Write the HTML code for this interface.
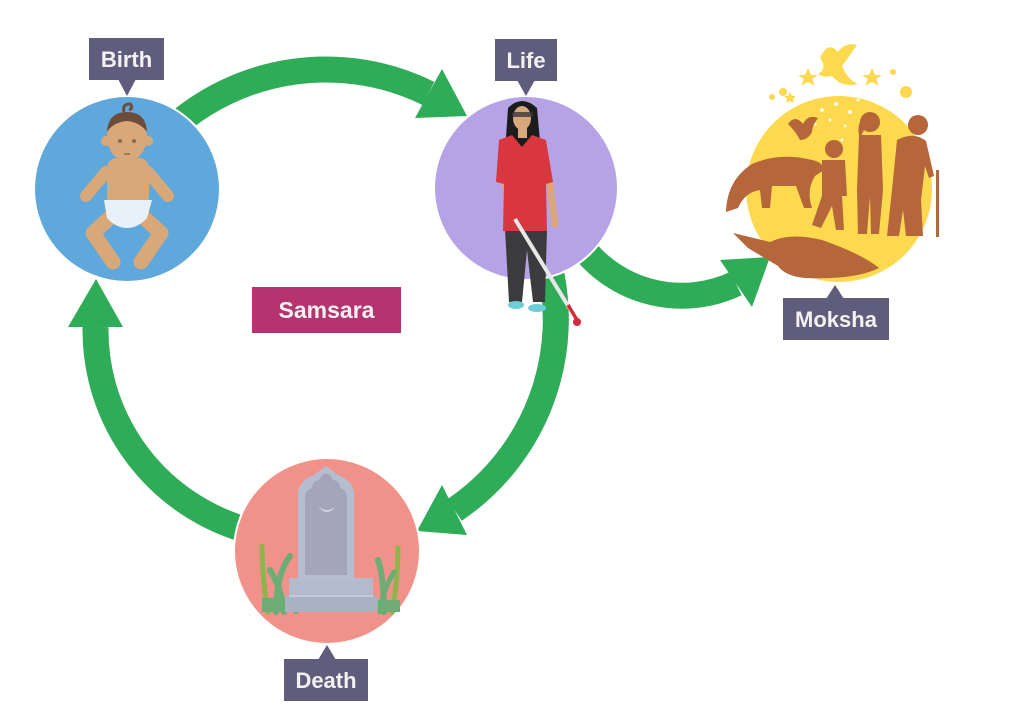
<!DOCTYPE html>
<html><head><meta charset="utf-8"><style>
html,body{margin:0;padding:0;background:#fff;}
svg{display:block;}
text{font-family:"Liberation Sans",sans-serif;font-weight:bold;}
</style></head><body>
<svg width="1024" height="709" viewBox="0 0 1024 709" xmlns="http://www.w3.org/2000/svg">
<rect width="1024" height="709" fill="#fff"/>

<!-- arrows -->
<g fill="none" stroke="#2eac57" stroke-width="26">
  <path d="M170 130 A231 231 0 0 1 428.5 93.5"/>
  <path d="M548 260 A230 230 0 0 1 454.5 510"/>
  <path d="M250 531 A208 208 0 0 1 95.5 327"/>
  <path d="M583 248 A126 126 0 0 0 736 283.5"/>
</g>
<g fill="#2eac57">
  <polygon points="442,69 467,116 415,118"/>
  <polygon points="442,485 467,535 417,531"/>
  <polygon points="68,327 123,327 96,279"/>
  <polygon points="720,260 770,257 752,307"/>
</g>

<!-- circles -->
<circle cx="127" cy="189" r="93" fill="#5fa8dc" stroke="#fff" stroke-width="2"/>
<circle cx="526" cy="188" r="92" fill="#b6a3e6" stroke="#fff" stroke-width="2"/>
<circle cx="327" cy="551" r="93" fill="#f0928a" stroke="#fff" stroke-width="2"/>
<circle cx="839" cy="189" r="93" fill="#fcd94e"/>

<!-- baby -->
<g>
  <g fill="none" stroke="#d9a878" stroke-linecap="round" stroke-linejoin="round">
    <polyline points="106,172 86,196" stroke-width="12"/>
    <polyline points="148,172 168,196" stroke-width="12"/>
    <polyline points="114,214 93,233 113,262" stroke-width="15"/>
    <polyline points="140,214 161,233 141,262" stroke-width="15"/>
  </g>
  <rect x="107" y="158" width="42" height="48" rx="10" fill="#d9a878"/>
  <path d="M104 200 L152 200 L147 218 Q138 228 127 228 Q116 228 107 218 Z" fill="#e8f1f9"/>
  <circle cx="106" cy="141" r="5" fill="#d9a878"/>
  <circle cx="148" cy="141" r="5" fill="#d9a878"/>
  <ellipse cx="127" cy="137" rx="20" ry="24" fill="#d9a878"/>
  <path d="M107 132 Q108 112 127 112 Q146 112 147 132 Q140 122 127 121 Q113 122 107 132 Z" fill="#6e4c3c"/>
  <path d="M124 112 Q122 104 130 104 Q134 108 129 110" fill="none" stroke="#6e4c3c" stroke-width="3"/>
  <circle cx="120" cy="141" r="2" fill="#8a6a55"/>
  <circle cx="134" cy="141" r="2" fill="#8a6a55"/>
  <line x1="124" y1="154" x2="130" y2="154" stroke="#8a6a55" stroke-width="1.5"/>
</g>

<!-- woman -->
<g>
  <path d="M508 108 Q522 94 537 108 L541 152 L505 152 Z" fill="#1c1c1e"/>
  <rect x="518" y="126" width="9" height="12" fill="#d9a77c"/>
  <ellipse cx="522" cy="118" rx="9" ry="12" fill="#d9a77c"/>
  <rect x="512" y="112" width="21" height="5" rx="2" fill="#3a3a3a" opacity="0.8"/>
  <g stroke="#d9a77c" stroke-width="7" stroke-linecap="round" fill="none">
    <line x1="502" y1="176" x2="517" y2="221"/>
    <line x1="549" y1="178" x2="555" y2="224"/>
  </g>
  <path d="M505 229 L547 229 L545 302 L533 302 L527 250 L522 302 L509 302 Z" fill="#3b3b3d"/>
  <path d="M499 140 L512 135 L522 147 L532 135 L546 140 L553 182 L546 184 L547 231 L503 231 L504 184 L496 182 Z" fill="#d9373f"/>
  <ellipse cx="516" cy="305" rx="8" ry="4" fill="#6ccfd6"/>
  <ellipse cx="537" cy="308" rx="9" ry="4" fill="#6ccfd6"/>
  <line x1="515" y1="219" x2="570" y2="309" stroke="#e8e8e8" stroke-width="4"/>
  <line x1="568" y1="305" x2="577" y2="320" stroke="#d42b3a" stroke-width="3.5"/>
  <circle cx="577" cy="322" r="4" fill="#d42b3a"/>
</g>

<!-- tombstone -->
<g>
  <g fill="none" stroke-linecap="round">
    <path d="M268 612 Q262 580 262 546" stroke="#8fb44b" stroke-width="5"/>
    <path d="M276 612 Q276 575 290 556" stroke="#6dac74" stroke-width="6"/>
    <path d="M284 612 Q282 590 270 570" stroke="#6dac74" stroke-width="6"/>
    <path d="M296 612 Q296 595 303 585" stroke="#6dac74" stroke-width="4"/>
    <path d="M392 612 Q398 580 398 548" stroke="#8fb44b" stroke-width="5"/>
    <path d="M384 612 Q384 578 378 560" stroke="#6dac74" stroke-width="6"/>
    <path d="M380 612 Q382 592 394 572" stroke="#6dac74" stroke-width="5"/>
  </g>
  <rect x="262" y="598" width="40" height="14" fill="#6dac74"/>
  <rect x="378" y="600" width="22" height="12" fill="#6dac74"/>
  <rect x="285" y="596" width="92" height="16" fill="#a9b1c5"/>
  <rect x="289" y="578" width="84" height="19" fill="#b2bacc"/>
  <line x1="289" y1="596" x2="373" y2="596" stroke="#c8cfdc" stroke-width="1.5"/>
  <path d="M298 582 L298 492 Q300 480 314 475 L326 466 L338 475 Q352 480 354 492 L354 582 Z" fill="#b5bed1"/>
  <path d="M305 575 L305 498 Q305 490 312 488 Q312 481 319 480 Q322 474 326 473 Q330 474 333 480 Q340 481 340 488 Q347 490 347 498 L347 575 Z" fill="#a4a5b9"/>
  <path d="M318 506 Q327 518 336 506 Q327 514 318 506 Z" fill="#d0d4e0"/>
</g>

<!-- moksha illustration -->
<g fill="#fcd94e">
  <circle cx="783" cy="92" r="4"/>
  <circle cx="906" cy="92" r="6"/>
  <circle cx="893" cy="72" r="3"/>
  <circle cx="772" cy="97" r="3"/>
  <polygon points="808,68 811,75 818,75 812,79 815,86 808,82 801,86 804,79 798,75 805,75"/>
  <polygon points="872,68 875,75 882,75 876,79 879,86 872,82 865,86 868,79 862,75 869,75"/>
  <polygon points="790,92 792,96 796,96 793,99 794,103 790,101 786,103 787,99 784,96 788,96"/>
  <path d="M820 58 Q828 40 838 52 Q845 42 857 45 Q848 58 842 66 Q848 80 858 84 Q842 88 832 76 Q824 78 818 74 Q828 68 820 58 Z"/>
</g>
<g fill="#ffffff" opacity="0.9">
  <circle cx="822" cy="110" r="2"/><circle cx="836" cy="104" r="2"/><circle cx="850" cy="112" r="2"/>
  <circle cx="830" cy="120" r="1.5"/><circle cx="845" cy="126" r="1.5"/><circle cx="815" cy="124" r="1.5"/>
  <circle cx="858" cy="100" r="1.5"/><circle cx="842" cy="140" r="1.5"/>
</g>
<g fill="#b5663b">
  <path d="M788 124 Q795 114 803 124 Q808 114 818 118 Q812 126 812 132 Q808 140 800 140 Q796 132 788 124 Z"/>
  <path d="M726 212 Q727 180 752 164 Q780 152 812 160 Q823 162 824 170 L815 176 Q806 190 812 208 L804 208 L796 186 L772 186 L770 208 L762 208 L760 190 Q745 192 738 208 Q732 210 726 212 Z"/>
  <path d="M733 233 L770 242 Q790 232 822 240 Q862 254 879 268 Q855 280 805 278 Q785 276 778 266 L748 248 Z"/>
  <circle cx="834" cy="149" r="9"/>
  <path d="M822 160 L845 160 L847 196 L842 196 L844 230 L836 230 L832 206 L821 228 L812 225 L822 196 Z"/>
  <circle cx="870" cy="122" r="10"/>
  <path d="M862 118 Q856 128 860 138 L864 130 Z"/>
  <path d="M859 135 L881 135 L883 190 L879 234 L871 234 L870 196 L867 234 L858 234 L857 190 Z"/>
  <circle cx="918" cy="125" r="10"/>
  <path d="M897 140 Q914 131 926 141 L934 176 L929 178 L925 166 L921 200 L923 236 L906 236 L903 210 L899 236 L887 236 L892 190 Z"/>
  <rect x="936" y="170" width="3" height="67"/>
</g>

<!-- labels -->
<g fill="#605c7c">
  <rect x="89" y="38" width="75" height="42"/>
  <polygon points="118,79 136,79 127,96"/>
  <rect x="495" y="39" width="62" height="42"/>
  <polygon points="517,80 535,80 526,96"/>
  <rect x="783" y="298" width="106" height="42"/>
  <polygon points="826,299 844,299 835,285"/>
  <rect x="284" y="659" width="84" height="42"/>
  <polygon points="318,660 336,660 327,645"/>
</g>
<rect x="252" y="287" width="149" height="46" fill="#b5336f"/>
<g fill="#f2f2f2" font-size="22" text-anchor="middle">
  <text x="126.5" y="67">Birth</text>
  <text x="526" y="68">Life</text>
  <text x="836" y="327">Moksha</text>
  <text x="326" y="688">Death</text>
  <text x="326.5" y="318" font-size="23">Samsara</text>
</g>
</svg>
</body></html>
